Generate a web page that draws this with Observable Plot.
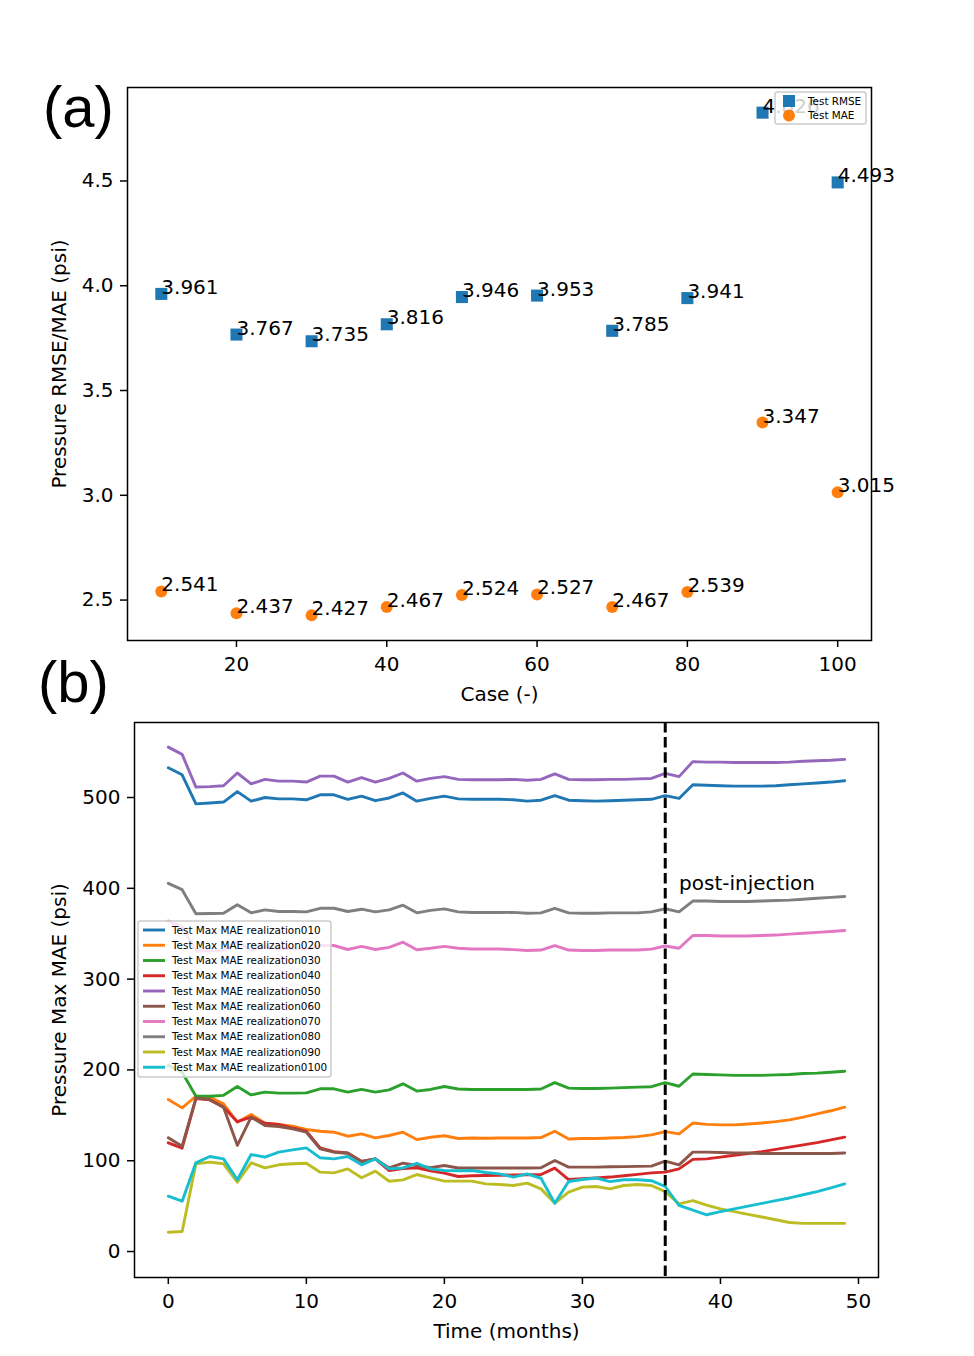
<!DOCTYPE html>
<html><head><meta charset="utf-8">
<script src="https://cdn.jsdelivr.net/npm/d3@7"></script>
<script src="https://cdn.jsdelivr.net/npm/@observablehq/plot@0.6"></script>
<style>
body{margin:0;background:#fff;font-family:"DejaVu Sans",sans-serif;}
#wrap{position:relative;width:974px;height:1356px;overflow:hidden;background:#fff;}
#wrap > *{position:absolute;left:0;}
</style></head><body><div id="wrap"></div>
<script>
// ---------- Panel (a) data ----------
const cases = [10, 20, 30, 40, 50, 60, 70, 80, 90, 100];
const testRMSE = [3.961, 3.767, 3.735, 3.816, 3.946, 3.953, 3.785, 3.941, 4.826, 4.493];
const testMAE = [2.541, 2.437, 2.427, 2.467, 2.524, 2.527, 2.467, 2.539, 3.347, 3.015];
const caseTicks = [20, 40, 60, 80, 100];
const errTicks = [2.5, 3.0, 3.5, 4.0, 4.5];

// ---------- Panel (b) data ----------
const months = [0,1,2,3,4,5,6,7,8,9,10,11,12,13,14,15,16,17,18,19,20,21,22,23,24,25,26,27,28,29,30,31,32,33,34,35,36,37,38,39,40,41,42,43,44,45,46,47,48,49];
const realizations = ["Test Max MAE realization010","Test Max MAE realization020","Test Max MAE realization030","Test Max MAE realization040","Test Max MAE realization050","Test Max MAE realization060","Test Max MAE realization070","Test Max MAE realization080","Test Max MAE realization090","Test Max MAE realization0100"];
const colors = ["#1f77b4","#ff7f0e","#2ca02c","#d62728","#9467bd","#8c564b","#e377c2","#7f7f7f","#bcbd22","#17becf"];
const r010 = [532.7,525,493,494,495,506.5,496,500,498.5,498.5,497.5,503,503,498,501.5,496.5,499.5,505,496,499,501.5,498.5,498,498,498,497.5,496,497,502,497,496.5,496,496.5,497,497.5,498,502,499,514,513.5,513,512.5,512.5,512.5,513,514,515,516,517,518.5];
const r020 = [167.4,158.2,171,170,162.6,142.4,150.9,141.3,139.9,138,134.4,132.5,131.4,127,129.6,125.2,127.8,131.4,123.3,125.9,127.5,124.5,125,124.8,125,125,125,125.5,132.5,124,124.5,124.5,125,125.5,126.5,128.5,132,129.5,141.5,140,139.5,139.5,140.5,141.5,143,145,148,151.5,155,159];
const r030 = [205,197.5,171,171,172,181.7,172.5,175.5,174.4,174.4,174.7,179.2,179.2,175.5,178.5,175.5,178,184.7,176.7,178.5,181.7,179,178.5,178.5,178.5,178.5,178.5,179,186,180,179.5,179.5,180,180.5,181,181.5,186,182,195.5,195,194.5,194,194,194,194.5,195,196,196.5,197.5,198.5];
const r040 = [119.7,113.8,168.5,167,159,143,148,141.3,139.9,136,132.5,114,110,108.5,99.1,102,89.2,91.3,92.2,89,86.4,82.6,83.5,83.7,84,84.3,84.5,84.8,91.8,79.3,80.3,81,82,83.5,85,86.6,87.5,91,101.5,102,104,106,108,110,112.5,115,117.5,120,123,126];
const r050 = [555.5,547.5,511.5,512,513,527,515,520,518,518,517,523.5,523.5,517,522,517,521,527,518,521,523,520,519.5,519.5,519.5,520,519,520,526,520,519.5,519.5,520,520,520.5,521,526.5,523,539.5,539,539,538.5,538.5,538.5,538.5,539,540,540.5,541,542];
const r060 = [125.2,116,169,167.5,159,117,148,138.8,137.7,135.2,131.4,113,109.4,108.3,99.1,102,92,97.4,94.7,92.4,94.7,92,92,92,92,92,92,92.2,100.2,93,93,93,93.3,93.5,93.8,94,99.5,95.5,109.5,109.5,109,108.5,108.5,108,108,108,108,108,108,108.5];
const r070 = [364,357.5,331,331.3,331.6,341,332,335.3,333.5,333.5,333,337,337,332.6,336,332.6,335,340.7,332.4,334,336,334,333.2,333.2,333.2,332.5,331.5,332,337,332,331.5,331.5,332,332,332,333,336.5,334,348,348,347.5,347.5,347.5,348,348.5,349.5,350.5,351.5,352.5,353.5];
const r080 = [405.5,398.5,372,372.3,372.6,382,373,376.3,374.5,374.5,374,378,378,374.5,377,374,376.3,381.4,373,375.7,377.4,374,373.3,373.3,373.3,373.5,372.5,373,378,373,372.5,372.5,373,373,373,374,377.5,374,386,386,385.5,385.5,385.5,386,386.5,387,388,389,390,391];
const r090 = [21.3,22,96.6,98.4,96.6,76.3,97.7,92.2,95.5,96.6,97.2,87.4,86.6,91,81.2,88.5,77.4,78.9,84.8,81.2,77.5,77.5,77.5,74.5,73.8,72.7,75.3,69,53.2,65.4,70.9,71.6,69,72.7,73.8,72.7,66,52.5,56,51,47,44,41,38,35,32,31,31,31,31];
const r0100 = [60.9,55.4,97.7,104.6,102,79,106.8,103.9,109.4,112,114.2,103.2,102,104.6,95.5,102,91,92,97.2,91,89.2,89,89.2,87,85.5,82,85.5,80.7,53.2,77.1,79.3,81,77,79,79,78,71.6,50.7,45.5,40.5,44,47,50,53,56,59,62.5,66,70,74.5];
const seriesValues = [r010, r020, r030, r040, r050, r060, r070, r080, r090, r0100];
const timeTicks = [0, 10, 20, 30, 40, 50];
const maeTicks = [0, 100, 200, 300, 400, 500];
const injectionEnd = [36];
const annotation = [{month: 37, value: 398, label: "post-injection"}];

// ---------- build tables ----------
const rmseRows = cases.map((c, i) => ({case: c, v: testRMSE[i]}));
const maeRows = cases.map((c, i) => ({case: c, v: testMAE[i]}));
const longRows = [];
realizations.forEach((name, k) => months.forEach((m, i) => longRows.push({name, month: m, v: seriesValues[k][i]})));

const FONT = "DejaVu Sans";
const wrap = document.getElementById("wrap");

// ---------- Panel (a) ----------
const p1 = Plot.plot({
  width: 974, height: 720,
  marginLeft: 127, marginRight: 103, marginTop: 87, marginBottom: 80,
  style: {background: "transparent", fontFamily: FONT, fontSize: "20px", color: "black", overflow: "visible"},
  x: {domain: [5.5, 104.5]},
  y: {domain: [2.307, 4.946]},
  marks: [
    Plot.axisX({ticks: caseTicks, tickSize: 7, tickPadding: 9, strokeWidth: 1.5, fontSize: 20, label: null}),
    Plot.axisY({ticks: errTicks, tickFormat: d3.format(".1f"), tickSize: 7, tickPadding: 7, strokeWidth: 1.5, fontSize: 20, label: null}),
    Plot.dot(rmseRows, {x: "case", y: "v", symbol: "square", r: 6.8, fill: "#1f77b4"}),
    Plot.dot(maeRows, {x: "case", y: "v", symbol: "circle", r: 6, fill: "#ff7f0e"}),
    Plot.text(rmseRows.concat(maeRows), {x: "case", y: "v", text: d => d.v.toFixed(3), textAnchor: "start", lineAnchor: "bottom", fontSize: 20, fill: "black"}),
    Plot.frame({stroke: "black", strokeWidth: 1.5}),
    Plot.text(["Pressure RMSE/MAE (psi)"], {frameAnchor: "left", textAnchor: "middle", lineAnchor: "middle", rotate: -90, dx: -68, fontSize: 20, fill: "black"}),
    Plot.text(["Case (-)"], {frameAnchor: "bottom", textAnchor: "middle", lineAnchor: "middle", dy: 54, fontSize: 20, fill: "black"})
  ]
});
p1.style.top = "0px";
wrap.appendChild(p1);

// ---------- Panel (b) ----------
const p2 = Plot.plot({
  width: 974, height: 716,
  marginLeft: 134, marginRight: 96, marginTop: 82, marginBottom: 79,
  style: {background: "transparent", fontFamily: FONT, fontSize: "20px", color: "black", overflow: "visible"},
  x: {domain: [-2.45, 51.45]},
  y: {domain: [-28.6, 582.6]},
  color: {domain: realizations, range: colors},
  marks: [
    Plot.axisX({ticks: timeTicks, tickSize: 7, tickPadding: 9, strokeWidth: 1.5, fontSize: 20, label: null}),
    Plot.axisY({ticks: maeTicks, tickSize: 7, tickPadding: 7, strokeWidth: 1.5, fontSize: 20, label: null}),
    Plot.line(longRows, {x: "month", y: "v", z: "name", stroke: "name", strokeWidth: 2.9}),
    Plot.ruleX(injectionEnd, {stroke: "black", strokeWidth: 3, strokeDasharray: "10.5,4.6"}),
    Plot.text(annotation, {x: "month", y: "value", text: "label", textAnchor: "start", lineAnchor: "bottom", fontSize: 20, fill: "black"}),
    Plot.frame({stroke: "black", strokeWidth: 1.5}),
    Plot.text(["Pressure Max MAE (psi)"], {frameAnchor: "left", textAnchor: "middle", lineAnchor: "middle", rotate: -90, dx: -75, fontSize: 20, fill: "black"}),
    Plot.text(["Time (months)"], {frameAnchor: "bottom", textAnchor: "middle", lineAnchor: "middle", dy: 54, fontSize: 20, fill: "black"})
  ]
});
p2.style.top = "640px";
wrap.appendChild(p2);

// ---------- legends & panel labels (overlay) ----------
const ov = d3.select(wrap).append("svg")
  .attr("width", 974).attr("height", 1356)
  .style("top", "0px").style("pointer-events", "none")
  .style("font-family", FONT);

// legend (a)
const la = ov.append("g").attr("transform", "translate(775,92)");
la.append("rect").attr("width", 91).attr("height", 32).attr("rx", 2.5)
  .attr("fill", "white").attr("fill-opacity", 0.8).attr("stroke", "#cccccc").attr("stroke-width", 1.5);
const legA = [{label: "Test RMSE", color: "#1f77b4", sym: d3.symbolSquare, size: 6.8 * 6.8 * Math.PI},
              {label: "Test MAE", color: "#ff7f0e", sym: d3.symbolCircle, size: 6 * 6 * Math.PI}];
legA.forEach((d, i) => {
  const cy = 9 + i * 14.5;
  la.append("path").attr("d", d3.symbol(d.sym, d.size)()).attr("transform", `translate(14,${cy})`).attr("fill", d.color);
  la.append("text").attr("x", 33).attr("y", cy).attr("dy", "0.36em").attr("font-size", 10.4).text(d.label);
});

// legend (b)
const lb = ov.append("g").attr("transform", "translate(138,921)");
lb.append("rect").attr("width", 193).attr("height", 156).attr("rx", 2.5)
  .attr("fill", "white").attr("fill-opacity", 0.8).attr("stroke", "#cccccc").attr("stroke-width", 1.5);
realizations.forEach((name, i) => {
  const cy = 9 + i * 15.25;
  lb.append("line").attr("x1", 5).attr("x2", 27).attr("y1", cy).attr("y2", cy)
    .attr("stroke", colors[i]).attr("stroke-width", 2.9);
  lb.append("text").attr("x", 34).attr("y", cy).attr("dy", "0.36em").attr("font-size", 10.4).text(name);
});

// panel labels
ov.append("text").attr("x", 43).attr("y", 127).attr("font-family", "Liberation Sans").attr("font-size", 58).text("(a)");
ov.append("text").attr("x", 38).attr("y", 702).attr("font-family", "Liberation Sans").attr("font-size", 58).text("(b)");
</script></body></html>
